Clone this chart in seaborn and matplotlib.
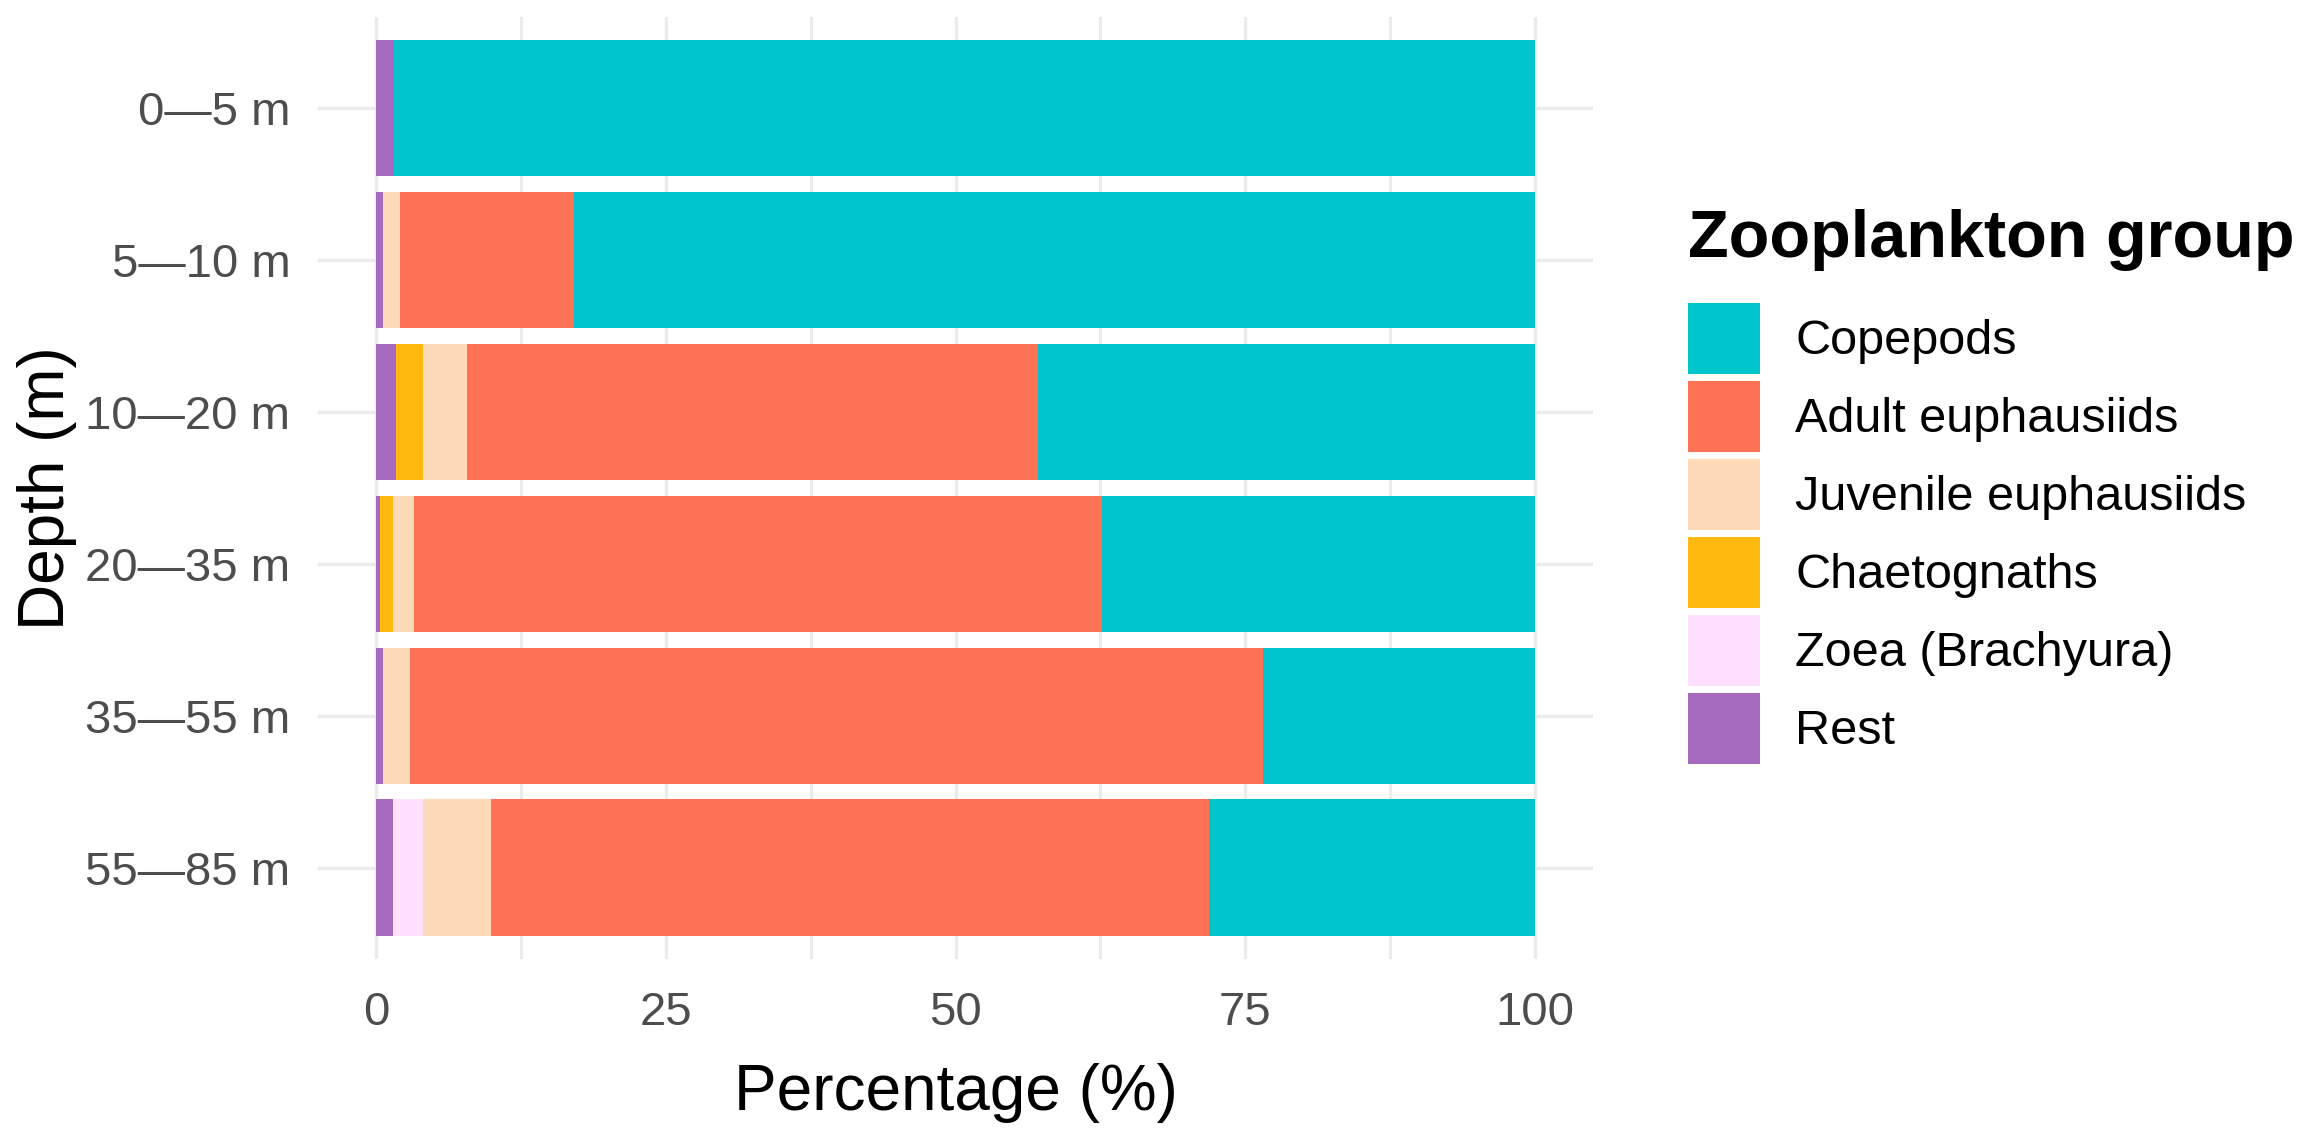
import numpy as np
import pandas as pd
import seaborn as sns
import matplotlib.pyplot as plt
from matplotlib.patches import Patch

# depth strata (top to bottom)
depths = ["0—5 m", "5—10 m", "10—20 m", "20—35 m", "35—55 m", "55—85 m"]

# percentages per group
rest = [1.45, 0.6, 1.7, 0.3, 0.6, 1.45]
zoea = [0.0, 0.0, 0.0, 0.0, 0.0, 2.6]
chaetognaths = [0.0, 0.0, 2.35, 1.15, 0.0, 0.0]
juvenile = [0.0, 1.5, 3.8, 1.8, 2.35, 5.9]
adult = [0.0, 15.0, 49.3, 59.4, 73.6, 61.9]
copepods = [98.55, 82.9, 42.85, 37.35, 23.45, 28.15]

groups = ["Copepods", "Adult euphausiids", "Juvenile euphausiids",
          "Chaetognaths", "Zoea (Brachyura)", "Rest"]
colors = ["#00C5CD", "#FF7256", "#FFDAB9", "#FFB90F", "#FFE1FF", "#A569BD"]

sns.set_style("white")
plt.rcParams["font.family"] = ["Liberation Sans", "DejaVu Sans"]
plt.rcParams["text.color"] = "black"

# stack from the left: Rest first, Copepods last
stack = [rest, zoea, chaetognaths, juvenile, adult, copepods]
stack_cols = colors[::-1]
cum = np.cumsum(np.array(stack), axis=0)

fig = plt.figure(figsize=(23, 11.3), dpi=100)
ax = fig.add_axes([0.1383, 0.1513, 0.5543, 0.8337])

# draw the widest cumulative bars first so the narrower ones sit on top
for i in range(len(stack) - 1, -1, -1):
    df = pd.DataFrame({"depth": depths, "pct": cum[i]})
    sns.barplot(data=df, x="pct", y="depth", order=depths, color=stack_cols[i],
                saturation=1, width=0.9, linewidth=0, orient="h", ax=ax)

ax.set_xlim(-5, 105)
ax.set_ylim(5.6, -0.6)
ax.set_xticks([0, 25, 50, 75, 100])
ax.set_xticks([12.5, 37.5, 62.5, 87.5], minor=True)
ax.set_axisbelow(True)
ax.grid(True, which="major", axis="both", color="#EBEBEB", linewidth=2.4)
ax.grid(True, which="minor", axis="x", color="#EBEBEB", linewidth=2.2)
for s in ax.spines.values():
    s.set_visible(False)

ax.tick_params(axis="both", which="both", length=0, labelsize=34, labelcolor="#4D4D4D")
ax.tick_params(axis="x", pad=23)
ax.tick_params(axis="y", pad=20)

ax.set_xlabel("Percentage (%)", fontsize=46, color="black", labelpad=20)
ax.set_ylabel("Depth (m)", fontsize=46, color="black", labelpad=6)

handles = [Patch(facecolor=c, edgecolor="none") for c in colors]
leg = fig.legend(handles, groups, loc="upper left", bbox_to_anchor=(0.734, 0.815),
                 frameon=False, fontsize=35, title="Zooplankton group",
                 title_fontproperties={"size": 48, "weight": "bold"},
                 alignment="left", handlelength=1.48, handleheight=1.87,
                 labelspacing=0.144, handletextpad=0.72, borderpad=0, borderaxespad=0,
                 labelcolor="black")
leg.get_title().set_color("black")
# more room between the title and the keys
leg._legend_box.sep = 23

fig.savefig("out.png", dpi=100)
